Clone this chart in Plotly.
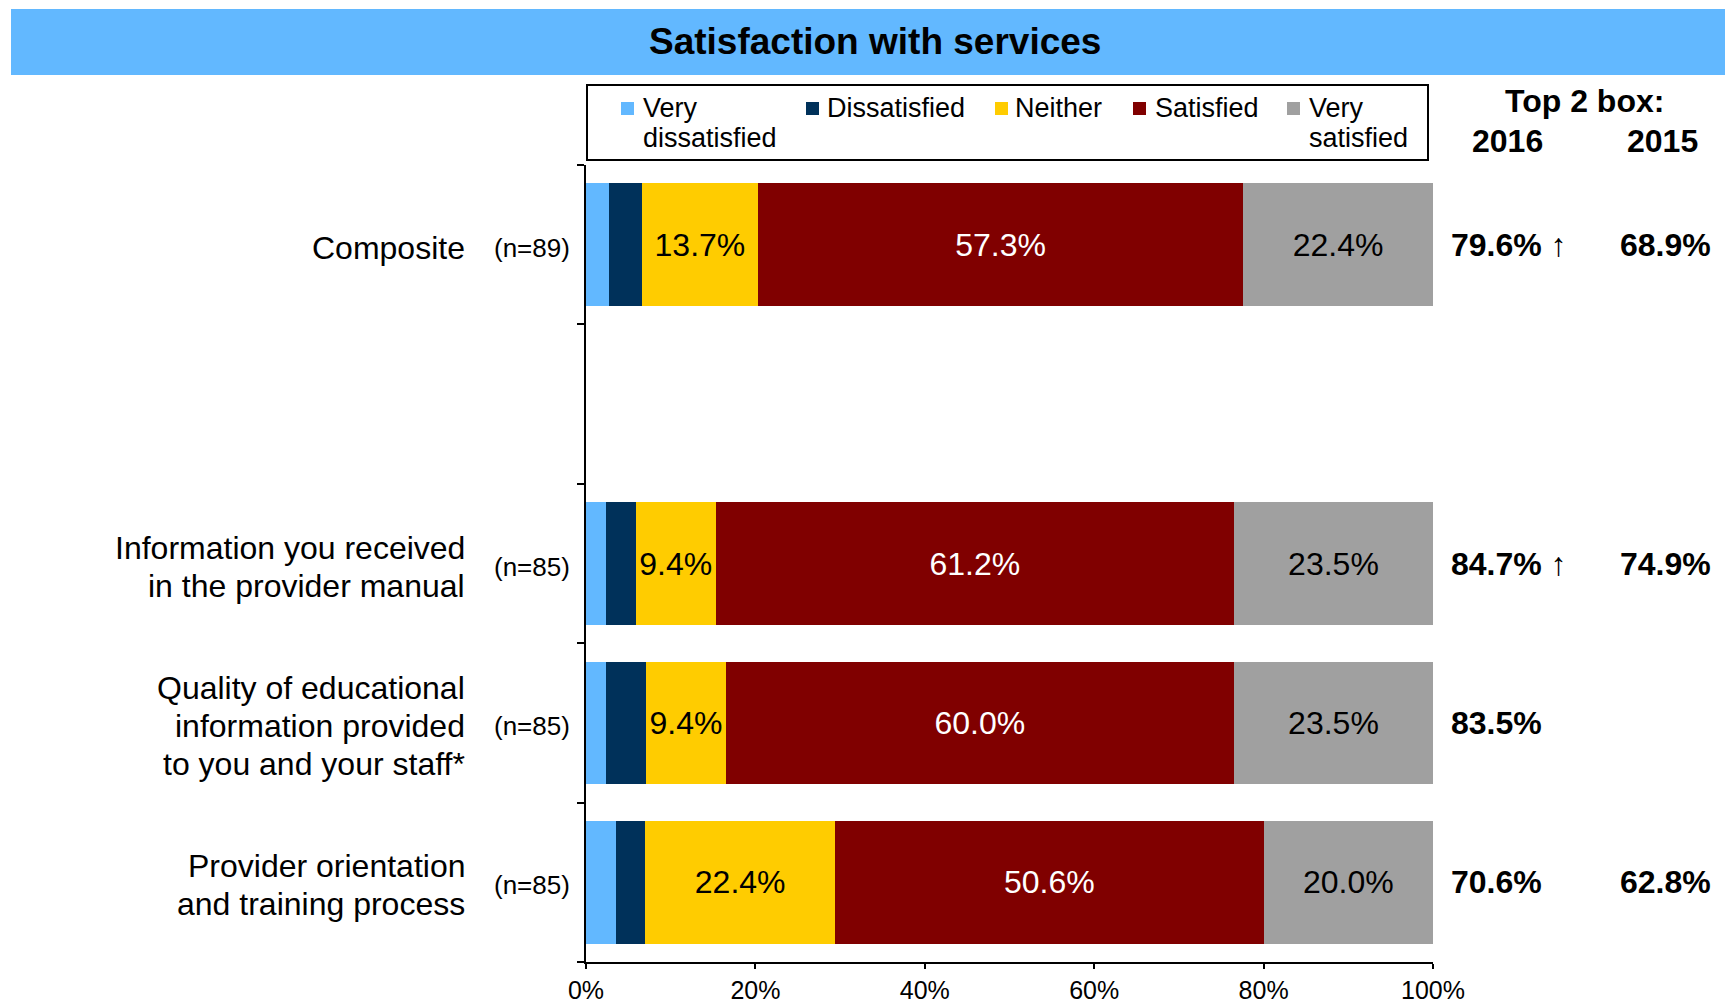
import plotly.graph_objects as go

# Survey items (slot 1 is an intentional spacer row)
categories = ["Composite", "", "Information you received<br>in the provider manual",
              "Quality of educational<br>information provided<br>to you and your staff*",
              "Provider orientation<br>and training process"]
sample_sizes = ["(n=89)", "", "(n=85)", "(n=85)", "(n=85)"]

# Response shares (%) per slot
very_dissatisfied = [2.7, None, 2.4, 2.4, 3.5]
dissatisfied = [3.9, None, 3.5, 4.7, 3.5]
neither = [13.7, None, 9.4, 9.4, 22.4]
satisfied = [57.3, None, 61.2, 60.0, 50.6]
very_satisfied = [22.4, None, 23.5, 23.5, 20.0]

top2_2016 = ["79.6% \u2191", "", "84.7% \u2191", "83.5%", "70.6%"]
top2_2015 = ["68.9%", "", "74.9%", "", "62.8%"]

x_ticks = [0, 20, 40, 60, 80, 100]
x_tick_labels = ["0%", "20%", "40%", "60%", "80%", "100%"]

FONT = "Liberation Sans, Arial, sans-serif"
W, H = 1725, 1003
L, R, T, B = 586, 292, 165, 41
PW, PH = W - L - R, H - T - B


def px_x(px):
    return (px - L) / PW


def px_y(py):
    return (H - B - py) / PH


slots = list(range(len(categories)))
slot_px = PH / len(categories)

series = [
    ("Very<br>dissatisfied", very_dissatisfied, "#62B8FF", False, "black"),
    ("Dissatisfied", dissatisfied, "#00315A", False, "black"),
    ("Neither", neither, "#FFCC00", True, "black"),
    ("Satisfied", satisfied, "#800000", True, "white"),
    ("Very<br>satisfied", very_satisfied, "#A0A0A0", True, "black"),
]

fig = go.Figure()
for name, vals, color, show_text, tcolor in series:
    fig.add_trace(go.Bar(
        name=name, y=slots, x=vals, orientation="h",
        marker=dict(color=color, line=dict(width=0)),
        text=[f"{v:.1f}%" if (v is not None and show_text) else "" for v in vals],
        textposition="inside" if show_text else "none",
        insidetextanchor="middle",
        constraintext="none",
        textfont=dict(family=FONT, size=32, color=tcolor),
        hoverinfo="skip",
        showlegend=False,
    ))

annotations = []
shapes = []

# Category labels, one annotation per line for tighter line spacing
line_pitch = 38 / slot_px
label_shift = 3 / slot_px
for i in slots:
    if categories[i]:
        lines = categories[i].split("<br>")
        n = len(lines)
        for k, ln in enumerate(lines):
            annotations.append(dict(x=px_x(467), xref="paper",
                                    y=i + label_shift + (k - (n - 1) / 2) * line_pitch, yref="y",
                                    text=ln, showarrow=False,
                                    xanchor="right", yanchor="middle",
                                    font=dict(family=FONT, size=32, color="black")))
    if sample_sizes[i]:
        annotations.append(dict(x=px_x(572), xref="paper", y=i + label_shift, yref="y",
                                text=sample_sizes[i], showarrow=False,
                                xanchor="right", yanchor="middle",
                                font=dict(family=FONT, size=26, color="black")))
    if top2_2016[i]:
        annotations.append(dict(x=px_x(1449), xref="paper", y=i, yref="y",
                                text=f"<b>{top2_2016[i]}</b>", showarrow=False,
                                xanchor="left", yanchor="middle",
                                font=dict(family=FONT, size=32, color="black")))
    if top2_2015[i]:
        annotations.append(dict(x=px_x(1713), xref="paper", y=i, yref="y",
                                text=f"<b>{top2_2015[i]}</b>", showarrow=False,
                                xanchor="right", yanchor="middle",
                                font=dict(family=FONT, size=32, color="black")))

# Column headers for the top-2-box figures and the title banner
annotations += [
    dict(x=px_x(1584), y=px_y(101), xref="paper", yref="paper", text="<b>Top 2 box:</b>",
         showarrow=False, xanchor="center", yanchor="middle",
         font=dict(family=FONT, size=32, color="black")),
    dict(x=px_x(1507), y=px_y(141), xref="paper", yref="paper", text="<b>2016</b>",
         showarrow=False, xanchor="center", yanchor="middle",
         font=dict(family=FONT, size=32, color="black")),
    dict(x=px_x(1662), y=px_y(141), xref="paper", yref="paper", text="<b>2015</b>",
         showarrow=False, xanchor="center", yanchor="middle",
         font=dict(family=FONT, size=32, color="black")),
    dict(x=px_x(875), y=px_y(41), xref="paper", yref="paper",
         text="<b>Satisfaction with services</b>", showarrow=False,
         xanchor="center", yanchor="middle",
         font=dict(family=FONT, size=37, color="black")),
]

shapes.append(dict(type="rect", xref="paper", yref="paper",
                   x0=px_x(11), x1=px_x(1725), y0=px_y(75), y1=px_y(9),
                   fillcolor="#62B8FF", line=dict(width=0), layer="below"))

# Legend box drawn by hand: swatch left edge and text start for each series
legend_swatch_x = [621, 806, 995, 1133, 1287]
legend_text_x = [641, 825, 1013, 1153, 1307]
shapes.append(dict(type="rect", xref="paper", yref="paper",
                   x0=px_x(587), x1=px_x(1428), y0=px_y(160), y1=px_y(85),
                   line=dict(color="black", width=2), fillcolor="white"))
for (name, vals, color, _, _), sx, tx in zip(series, legend_swatch_x, legend_text_x):
    shapes.append(dict(type="rect", xref="paper", yref="paper",
                       x0=px_x(sx), x1=px_x(sx + 13), y0=px_y(115), y1=px_y(102),
                       fillcolor=color, line=dict(width=0)))
    for k, ln in enumerate(name.split("<br>")):
        annotations.append(dict(x=px_x(tx), y=px_y(108 + 30 * k), xref="paper", yref="paper",
                                text=ln, showarrow=False, xanchor="left", yanchor="middle",
                                font=dict(family=FONT, size=27, color="black")))

fig.update_layout(
    width=W, height=H,
    margin=dict(l=L, r=R, t=T, b=B, pad=0, autoexpand=False),
    barmode="stack", bargap=0.23,
    plot_bgcolor="white", paper_bgcolor="white",
    font=dict(family=FONT, size=26, color="black"),
    showlegend=False,
    xaxis=dict(range=[0, 100], tickmode="array", tickvals=x_ticks, ticktext=x_tick_labels,
               automargin=False,
               showgrid=False, zeroline=False, showline=True, linecolor="black",
               linewidth=2, ticks="outside", ticklen=5, tickwidth=2, tickcolor="black",
               tickfont=dict(family=FONT, size=25, color="black")),
    yaxis=dict(range=[len(categories) - 0.5, -0.5], automargin=False,
               tickmode="array",
               tickvals=[i - 0.5 for i in range(len(categories) + 1)],
               showticklabels=False, showgrid=False, zeroline=False,
               showline=True, linecolor="black", linewidth=2,
               ticks="outside", ticklen=7, tickwidth=2, tickcolor="black"),
    annotations=annotations,
    shapes=shapes,
)

fig.write_html("out.html")
